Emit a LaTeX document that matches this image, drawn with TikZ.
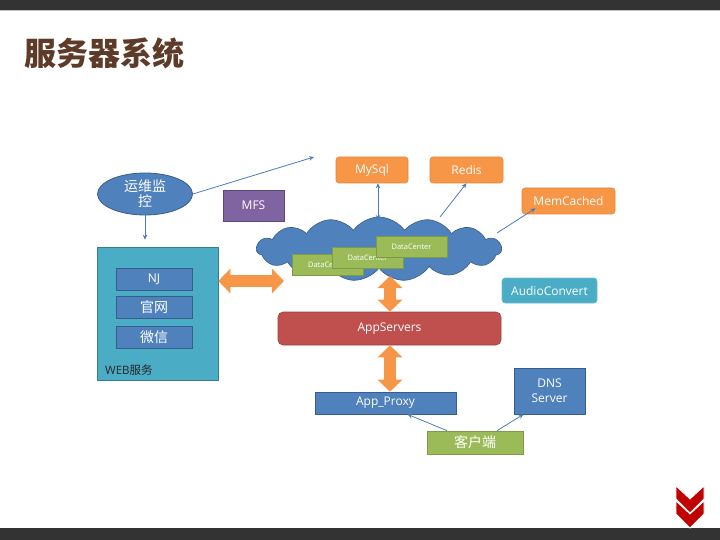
\documentclass[tikz,border=0pt]{standalone}
\usepackage{fontspec}
\setmainfont{Open Sans}
\newfontfamily\cjk{Noto Sans CJK SC}
\usetikzlibrary{shapes.geometric,shapes.symbols,arrows.meta}
\definecolor{barc}{HTML}{333333}
\definecolor{titlec}{HTML}{5E3A28}
\definecolor{blu}{HTML}{4F81BD}
\definecolor{blud}{HTML}{385D8A}
\definecolor{tea}{HTML}{4BACC6}
\definecolor{tead}{HTML}{357D91}
\definecolor{ora}{HTML}{F79646}
\definecolor{orad}{HTML}{E4853C}
\definecolor{redb}{HTML}{C0504D}
\definecolor{redd}{HTML}{A03F3C}
\definecolor{grn}{HTML}{9BBB59}
\definecolor{grnd}{HTML}{7F9B47}
\definecolor{pur}{HTML}{8064A2}
\definecolor{purd}{HTML}{5C4776}
\definecolor{lnk}{HTML}{4A7EBB}
\definecolor{chev}{HTML}{C00000}
\tikzset{
  box/.style={draw, line width=0.6pt, inner sep=0pt, text=white, align=center, font=\fontsize{12}{14}\selectfont},
  bluebox/.style={box, fill=blu, draw=blud},
  orabox/.style={box, fill=ora, draw=orad, rounded corners=3pt},
  grnbox/.style={box, fill=grn, draw=grnd, minimum width=71pt, minimum height=21pt, font=\fontsize{7.5}{9}\selectfont},
  thin/.style={draw=lnk, line width=0.8pt, -{Stealth[length=5pt,width=4.5pt]}},
  fat/.style={draw=ora, line width=12pt, {Triangle[length=12pt,width=24pt]}-{Triangle[length=12pt,width=24pt]}},
}
\begin{document}
\begin{tikzpicture}[x=1pt,y=-1pt]
\useasboundingbox (0,0) rectangle (720,540);
% bars
\fill[barc] (0,0) rectangle (720,10);
\fill[black!25] (0,10) rectangle (720,11.5);
\fill[barc] (0,528) rectangle (720,540);
% title
\node[anchor=west, text=titlec, font=\cjk\bfseries\fontsize{32}{34}\selectfont, inner sep=0] (title) at (24,53) {服务器系统};
% monitor
\node[ellipse, fill=blu, draw=blud, line width=0.8pt, minimum width=95pt, minimum height=42pt, inner sep=0, text=white, align=center, font=\cjk\fontsize{14}{15}\selectfont] (mon) at (145,194) {运维监\\控};
\node[box, fill=pur, draw=purd, minimum width=61pt, minimum height=31pt] (mfs) at (253.5,205.5) {MFS};
% web
\node[box, fill=tea, draw=tead, minimum width=121pt, minimum height=133pt] (web) at (157.5,313.5) {};
\node[bluebox, minimum width=76pt, minimum height=22pt] (nj) at (154,279) {NJ};
\node[bluebox, minimum width=76pt, minimum height=22pt, font=\cjk\fontsize{14}{15}\selectfont] (gw) at (154,307.5) {官网};
\node[bluebox, minimum width=76pt, minimum height=22pt, font=\cjk\fontsize{14}{15}\selectfont] (wx) at (154,337) {微信};
\node[anchor=west, inner sep=0, text=black!85, font=\fontsize{11.5}{13}\selectfont] (weblbl) at (105,370) {WEB{\cjk 服务}};
% stores
\node[orabox, minimum width=72pt, minimum height=26pt] (mysql) at (372,170) {MySql};
\node[orabox, minimum width=73pt, minimum height=26pt] (redis) at (466.5,170) {Redis};
\node[orabox, minimum width=93pt, minimum height=26pt] (mem) at (568.5,201) {MemCached};
\node[box, fill=tea, draw=tea!80!white, rounded corners=3pt, minimum width=95pt, minimum height=25pt] (audio) at (549.5,290.5) {AudioConvert};
% cloud
\node[cloud, cloud puffs=15, cloud puff arc=110, aspect=3.8, fill=blu, draw=blud, line width=0.6pt, minimum width=245pt, minimum height=64pt, inner sep=0] (cloud) at (379,249) {};
\node[grnbox] (dc1) at (328,264.5) {DataCenter};
\node[grnbox] (dc2) at (367.5,257.5) {DataCenter};
\node[grnbox] (dc3) at (411.5,247) {DataCenter};
% app
\node[box, fill=redb, draw=redd, rounded corners=5pt, minimum width=223pt, minimum height=33pt] (app) at (389.5,328.5) {AppServers};
\node[bluebox, minimum width=141pt, minimum height=22pt] (proxy) at (385.5,403) {App\_Proxy};
\node[bluebox, minimum width=71pt, minimum height=46pt, font=\fontsize{12}{15}\selectfont] (dns) at (549.5,391) {DNS\\Server};
\node[box, fill=grn, draw=grnd, minimum width=96pt, minimum height=23pt, font=\cjk\fontsize{14}{15}\selectfont] (cli) at (475,442.5) {客户端};
% coordinates
\coordinate (monend) at (314,157);
\coordinate (mysqlc) at (378,220);
\coordinate (redisc) at (440,217);
\coordinate (memc) at (497,233);
\coordinate (fatR) at (284,281);
\coordinate (vx) at (390,276);
% thin connectors
\draw[thin] (mon.south) -- ([yshift=7pt]mon.south |- web.north);
\draw[thin] (mon.east) -- (monend);
\draw[thin, {Stealth[length=5pt,width=4.5pt]}-{Stealth[length=5pt,width=4.5pt]}] (mysqlc) -- (mysqlc |- mysql.south);
\draw[thin] (redisc) -- (redis.south);
\draw[thin] (memc) -- ([xshift=-33pt,yshift=6pt]mem.south);
\draw[thin] ([xshift=-28pt]cli.north) -- ([xshift=22pt]proxy.south);
\draw[thin] ([xshift=22pt]cli.north) -- ([xshift=-26pt]dns.south);
% fat connectors
\draw[fat] (web.east |- fatR) -- (fatR);
\draw[fat] (vx) -- (vx |- app.north);
\draw[fat] (vx |- app.south) -- (vx |- proxy.north);
% chevrons
\foreach \y in {486,501}{
  \fill[chev, draw=white, line width=0.8pt] (676,\y) -- (690,\y+13) -- (704,\y) -- (704,\y+13) -- (690,\y+27) -- (676,\y+13) -- cycle;
}
\end{tikzpicture}
\end{document}
